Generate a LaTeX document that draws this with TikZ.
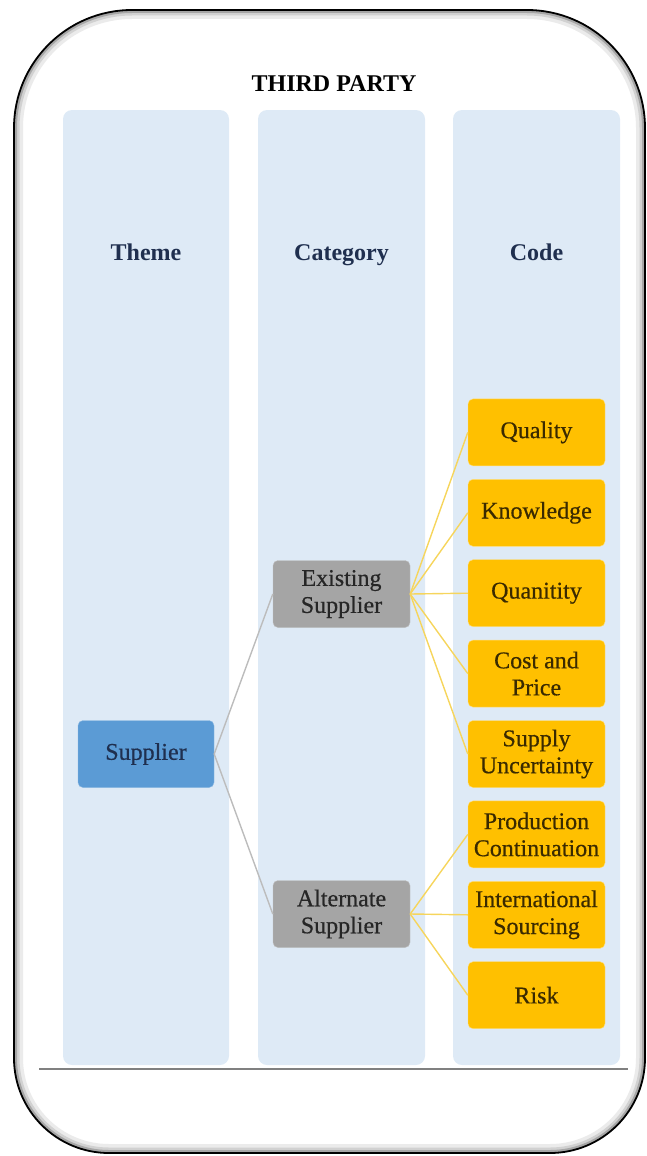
\documentclass[tikz,border=0pt]{standalone}
\usepackage{fontspec}
\setmainfont{Liberation Serif}
\newfontfamily\boxfont{Liberation Serif}[FakeBold=0.5]
\usepackage{tikz}
\usetikzlibrary{positioning,calc}

\definecolor{colbg}{HTML}{DEEAF6}
\definecolor{gold}{HTML}{FFC000}
\definecolor{goldline}{HTML}{F6D55C}
\definecolor{greybox}{HTML}{A5A5A5}
\definecolor{greyline}{HTML}{BCBCBC}
\definecolor{bluebox}{HTML}{5B9BD5}
\definecolor{navy}{HTML}{1F2F4F}
\definecolor{brown}{HTML}{3A2A00}

\tikzset{
  column/.style={fill=colbg, rounded corners=9},
  heading/.style={anchor=base, font=\fontsize{24}{27}\selectfont\bfseries, text=navy},
  themebox/.style={fill=bluebox, draw=bluebox!70!white, rounded corners=5,
    minimum width=136, minimum height=67, text=navy,
    font=\fontsize{24}{27}\boxfont},
  catbox/.style={fill=greybox, draw=greybox!70!white, rounded corners=5,
    minimum width=137, minimum height=67, align=center, text=black!85,
    font=\fontsize{24}{27}\boxfont},
  codebox/.style={fill=gold, draw=gold!50!white, rounded corners=5,
    minimum width=137, minimum height=67, align=center, inner sep=1pt,
    text=brown, font=\fontsize{24}{27}\boxfont},
  gline/.style={draw=greyline, line width=1.4pt},
  yline/.style={draw=goldline, line width=1.4pt},
}
% outline of the frame, top corners rounder than bottom ones
\def\frameshape{(14,600) [rounded corners=118] -- (14,10) -- (645,10) -- (645,600)
  [rounded corners=95] -- (645,1153) -- (14,1153) -- cycle}

\begin{document}
\begin{tikzpicture}[x=1pt,y=-1pt]
\useasboundingbox (0,0) rectangle (646,1156);

% frame with an inner shadow
\begin{scope}
  \clip \frameshape;
  \draw[line width=18pt, black!8] \frameshape;
  \draw[line width=11pt, black!18] \frameshape;
  \draw[line width=6pt, black!35] \frameshape;
\end{scope}
\draw[line width=1.8pt, black] \frameshape;

\node[font=\fontsize{24}{27}\selectfont\bfseries] (title) at (334,84) {THIRD PARTY};

% columns
\fill[column] (63,110) rectangle (229,1065);
\fill[column] (258,110) rectangle (425,1065);
\fill[column] (453,110) rectangle (620,1065);
\draw[gray, line width=1.3pt] (39,1069) -- (628,1069);

\node[heading] (theme) at (146,260) {Theme};
\node[heading] (category) at (341.5,260) {Category};
\node[heading] (code) at (536.5,260) {Code};

\node[themebox] (supplier) at (146,754) {Supplier};
\node[catbox] (exist) at (341.5,594) {Existing\\Supplier};
\node[catbox] (alt) at (341.5,914) {Alternate\\Supplier};

\foreach \name/\txt [count=\i] in {quality/Quality, knowledge/Knowledge,
    quantity/Quanitity, cost/{Cost and\\Price}, uncert/{Supply\\Uncertainty},
    prod/{Production\\Continuation}, intl/{International\\Sourcing}, risk/Risk}
  \node[codebox] (\name) at (536.5,352+80.4*\i) {\txt};

\draw[gline] (supplier.east) -- (exist.west);
\draw[gline] (supplier.east) -- (alt.west);
\foreach \n in {quality,knowledge,quantity,cost,uncert}
  \draw[yline] (exist.east) -- (\n.west);
\foreach \n in {prod,intl,risk}
  \draw[yline] (alt.east) -- (\n.west);
\end{tikzpicture}
\end{document}
